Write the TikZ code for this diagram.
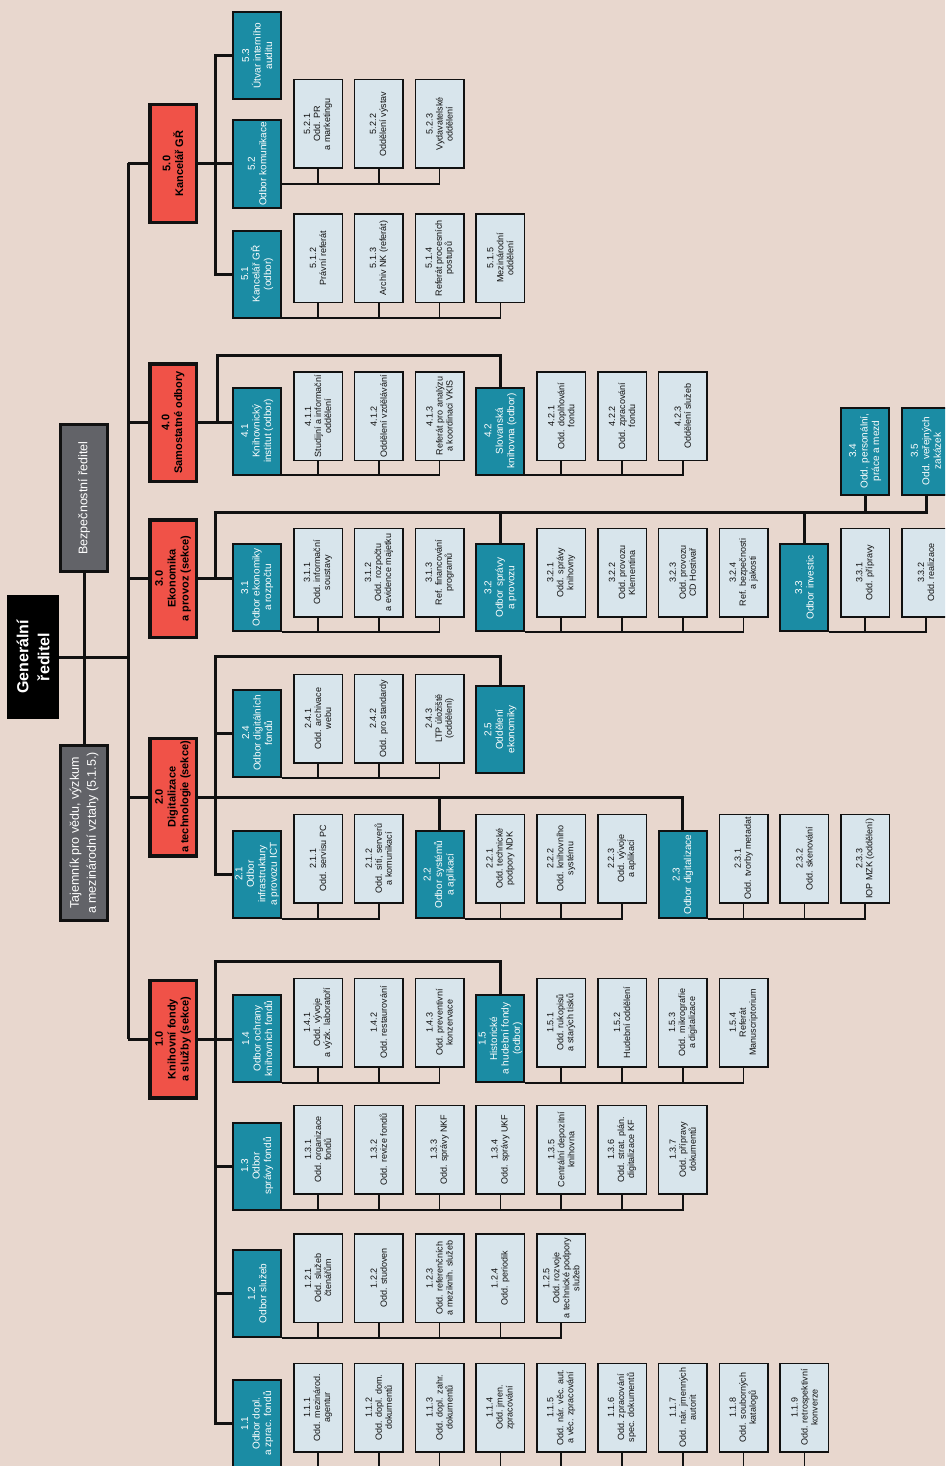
\documentclass[tikz,border=0pt]{standalone}
\usepackage{fontspec}
\setmainfont{Liberation Sans}
\usetikzlibrary{calc}
\definecolor{bgc}{RGB}{232,215,206}
\definecolor{redc}{RGB}{240,82,72}
\definecolor{tealc}{RGB}{27,140,164}
\definecolor{lightc}{RGB}{216,229,236}
\definecolor{grayc}{RGB}{98,99,104}
\definecolor{linec}{RGB}{17,17,17}
\tikzset{
 box/.style={rotate=90, align=center, inner sep=0.5pt, anchor=center},
 lbox/.style={box, draw=linec, fill=lightc, text=linec, line width=1.5pt, minimum width=88.5pt, minimum height=48.5pt, font=\fontsize{9}{10}\selectfont},
 tbox/.style={box, draw=linec, fill=tealc, text=white, line width=2pt, minimum width=87pt, minimum height=48pt, font=\fontsize{10}{11.5}\selectfont},
 rbox/.style={box, draw=linec, fill=redc, text=black, line width=3.5pt, minimum width=117.5pt, minimum height=46.5pt, font=\fontsize{11}{12.8}\selectfont\bfseries},
 gbox/.style={box, draw=linec, fill=grayc, text=white, line width=3pt, minimum height=47pt, font=\fontsize{12.5}{17}\selectfont},
 gdbox/.style={box, fill=black, text=white, minimum width=124pt, minimum height=52pt, font=\fontsize{16}{21}\selectfont\bfseries},
 thk/.style={draw=linec, line width=3pt},
 bus/.style={draw=linec, line width=1.7pt},
}
\begin{document}
\begin{tikzpicture}[x=1pt,y=-1pt]
\useasboundingbox (0,0) rectangle (945,1466);
\clip (0,0) rectangle (945,1466);
\fill[bgc] (0,0) rectangle (945,1466);

% top level
\node[gdbox] (gr) at (33,657) {Generální\\ředitel};
\node[gbox, minimum width=147pt] (bez) at (84,498) {Bezpečnostní ředitel};
\node[gbox, minimum width=175pt] (taj) at (84,833) {Tajemník pro vědu, výzkum\\a mezinárodní vztahy (5.1.5.)};

% sections
\node[rbox] (r50) at (173,163.5) {5.0\\Kancelář GŘ};
\node[rbox] (r40) at (173,422.5) {4.0\\Samostatné odbory};
\node[rbox] (r30) at (173,578.5) {3.0\\Ekonomika\\a provoz (sekce)};
\node[rbox] (r20) at (173,797) {2.0\\Digitalizace\\a technologie (sekce)};
\node[rbox] (r10) at (173,1039) {1.0\\Knihovní fondy\\a služby (sekce)};

% ---- section 5
\node[tbox] (t53) at (257.2,55.5) {5.3\\Útvar interního\\auditu};
\node[tbox] (t52) at (257.2,164) {5.2\\Odbor komunikace};
\node[tbox] (t51) at (257.2,274) {5.1\\Kancelář GŘ\\(odbor)};
\node[lbox] (l521) at (318,124) {5.2.1\\Odd. PR\\a marketingu};
\node[lbox] (l522) at (378.8,124) {5.2.2\\Oddělení výstav};
\node[lbox] (l523) at (439.6,124) {5.2.3\\Vydavatelské\\oddělení};
\node[lbox] (l512) at (318,258) {5.1.2\\Právní referát};
\node[lbox] (l513) at (378.8,258) {5.1.3\\Archiv NK (referát)};
\node[lbox] (l514) at (439.6,258) {5.1.4\\Referát procesních\\postupů};
\node[lbox] (l515) at (500.4,258) {5.1.5\\Mezinárodní\\oddělení};

% ---- section 4
\node[tbox] (t41) at (257.2,431) {4.1\\Knihovnický\\institut (odbor)};
\node[tbox] (t42) at (500.4,431) {4.2\\Slovanská\\knihovna (odbor)};
\node[lbox] (l411) at (318,416) {4.1.1\\Studijní a informační\\oddělení};
\node[lbox] (l412) at (378.8,416) {4.1.2\\Oddělení vzdělávání};
\node[lbox] (l413) at (439.6,416) {4.1.3\\Referát pro analýzu\\a koordinaci VKIS};
\node[lbox] (l421) at (561.2,416) {4.2.1\\Odd. doplňování\\fondu};
\node[lbox] (l422) at (622,416) {4.2.2\\Odd. zpracování\\fondu};
\node[lbox] (l423) at (682.8,416) {4.2.3\\Oddělení služeb};

% ---- section 3
\node[tbox] (t31) at (257.2,587.5) {3.1\\Odbor ekonomiky\\a rozpočtu};
\node[tbox] (t32) at (500.4,587.5) {3.2\\Odbor správy\\a provozu};
\node[tbox] (t33) at (804.4,587.5) {3.3\\Odbor investic};
\node[tbox] (t34) at (865.2,451) {3.4\\Odd. personální,\\práce a mezd};
\node[tbox] (t35) at (926,451) {3.5\\Odd. veřejných\\zakázek};
\node[lbox] (l311) at (318,572.5) {3.1.1\\Odd. informační\\soustavy};
\node[lbox] (l312) at (378.8,572.5) {3.1.2\\Odd. rozpočtu\\a evidence majetku};
\node[lbox] (l313) at (439.6,572.5) {3.1.3\\Ref. financování\\programů};
\node[lbox] (l321) at (561.2,572.5) {3.2.1\\Odd. správy\\knihovny};
\node[lbox] (l322) at (622,572.5) {3.2.2\\Odd. provozu\\Klementina};
\node[lbox] (l323) at (682.8,572.5) {3.2.3\\Odd. provozu\\CD Hostivař};
\node[lbox] (l324) at (743.6,572.5) {3.2.4\\Ref. bezpečnosti\\a jakosti};
\node[lbox] (l331) at (865.2,572.5) {3.3.1\\Odd. přípravy};
\node[lbox] (l332) at (926,572.5) {3.3.2\\Odd. realizace};

% ---- section 2
\node[tbox] (t24) at (257.2,733) {2.4\\Odbor digitálních\\fondů};
\node[tbox] (t25) at (500.4,729.5) {2.5\\Oddělení\\ekonomiky};
\node[tbox] (t21) at (257.2,874) {2.1\\Odbor\\infrastruktury\\a provozu ICT};
\node[tbox] (t22) at (439.6,874.5) {2.2\\Odbor systémů\\a aplikací};
\node[tbox] (t23) at (682.8,874.5) {2.3\\Odbor digitalizace};
\node[lbox] (l241) at (318,718.5) {2.4.1\\Odd. archivace\\webu};
\node[lbox] (l242) at (378.8,718.5) {2.4.2\\Odd. pro standardy};
\node[lbox] (l243) at (439.6,718.5) {2.4.3\\LTP úložiště\\(oddělení)};
\node[lbox] (l211) at (318,858.5) {2.1.1\\Odd. servisu PC};
\node[lbox] (l212) at (378.8,858.5) {2.1.2\\Odd. sítí, serverů\\a komunikací};
\node[lbox] (l221) at (500.4,858.5) {2.2.1\\Odd. technické\\podpory NDK};
\node[lbox] (l222) at (561.2,858.5) {2.2.2\\Odd. knihovního\\systému};
\node[lbox] (l223) at (622,858.5) {2.2.3\\Odd. vývoje\\a aplikací};
\node[lbox] (l231) at (743.6,858.5) {2.3.1\\Odd. tvorby metadat};
\node[lbox] (l232) at (804.4,858.5) {2.3.2\\Odd. skenování};
\node[lbox] (l233) at (865.2,858.5) {2.3.3\\IOP MZK (oddělení)};

% ---- section 1
\node[tbox] (t14) at (257.2,1038.5) {1.4\\Odbor ochrany\\knihovních fondů};
\node[tbox] (t15) at (500.4,1038.5) {1.5\\Historické\\a hudební fondy\\(odbor)};
\node[tbox] (t13) at (257.2,1166) {1.3\\Odbor\\správy fondů};
\node[tbox] (t12) at (257.2,1293.5) {1.2\\Odbor služeb};
\node[tbox] (t11) at (257.2,1423.5) {1.1\\Odbor dopl.\\a zprac. fondů};
\node[lbox] (l141) at (318,1022.5) {1.4.1\\Odd. vývoje\\a výzk. laboratoří};
\node[lbox] (l142) at (378.8,1022.5) {1.4.2\\Odd. restaurování};
\node[lbox] (l143) at (439.6,1022.5) {1.4.3\\Odd. preventivní\\konzervace};
\node[lbox] (l151) at (561.2,1022.5) {1.5.1\\Odd. rukopisů\\a starých tisků};
\node[lbox] (l152) at (622,1022.5) {1.5.2\\Hudební oddělení};
\node[lbox] (l153) at (682.8,1022.5) {1.5.3\\Odd. mikrografie\\a digitalizace};
\node[lbox] (l154) at (743.6,1022.5) {1.5.4\\Referát\\Manuscriptorium};
\node[lbox] (l131) at (318,1149.5) {1.3.1\\Odd. organizace\\fondů};
\node[lbox] (l132) at (378.8,1149.5) {1.3.2\\Odd. revize fondů};
\node[lbox] (l133) at (439.6,1149.5) {1.3.3\\Odd. správy NKF};
\node[lbox] (l134) at (500.4,1149.5) {1.3.4\\Odd. správy UKF};
\node[lbox] (l135) at (561.2,1149.5) {1.3.5\\Centrální depozitní\\knihovna};
\node[lbox] (l136) at (622,1149.5) {1.3.6\\Odd. strat. plán.\\digitalizace KF};
\node[lbox] (l137) at (682.8,1149.5) {1.3.7\\Odd. přípravy\\dokumentů};
\node[lbox] (l121) at (318,1278) {1.2.1\\Odd. služeb\\čtenářům};
\node[lbox] (l122) at (378.8,1278) {1.2.2\\Odd. studoven};
\node[lbox] (l123) at (439.6,1278) {1.2.3\\Odd. referenčních\\a meziknih. služeb};
\node[lbox] (l124) at (500.4,1278) {1.2.4\\Odd. periodik};
\node[lbox] (l125) at (561.2,1278) {1.2.5\\Odd. rozvoje\\a technické podpory\\služeb};
\node[lbox] (l111) at (318,1407.5) {1.1.1\\Odd. mezinárod.\\agentur};
\node[lbox] (l112) at (378.8,1407.5) {1.1.2\\Odd. dopl. dom.\\dokumentů};
\node[lbox] (l113) at (439.6,1407.5) {1.1.3\\Odd. dopl. zahr.\\dokumentů};
\node[lbox] (l114) at (500.4,1407.5) {1.1.4\\Odd. jmen.\\zpracování};
\node[lbox] (l115) at (561.2,1407.5) {1.1.5\\Odd. nár. věc. aut.\\a věc. zpracování};
\node[lbox] (l116) at (622,1407.5) {1.1.6\\Odd. zpracování\\spec. dokumentů};
\node[lbox] (l117) at (682.8,1407.5) {1.1.7\\Odd. nár. jmenných\\autorit};
\node[lbox] (l118) at (743.6,1407.5) {1.1.8\\Odd. souborných\\katalogů};
\node[lbox] (l119) at (804.4,1407.5) {1.1.9\\Odd. retrospektivní\\konverze};

% ================= connectors
\coordinate (spx) at (128,0);
\coordinate (sx) at (215,0);
\coordinate (sx4) at (217,0);
\draw[thk] (r50.north -| spx) -- (r10.north -| spx);
\foreach \r in {r50,r40,r30,r20,r10} \draw[thk] (\r.north -| spx) -- (\r.north);
\draw[thk] (gr.south) -- (gr.south -| spx);
\draw[thk] (bez.west) -- (taj.east);

% section 5
\draw[thk] (r50.south) -- (r50.south -| t52.north);
\draw[thk] (t53.north) -| (t51.north -| sx) -- (t51.north);
\coordinate (b52) at (0,184);
\draw[bus] (t52.south |- b52) -| (l523.west);
\foreach \c in {l521,l522} \draw[bus] (\c.west) -- (\c.west |- b52);
\coordinate (b51) at (0,318);
\draw[bus] (t51.south |- b51) -| (l515.west);
\foreach \c in {l512,l513,l514} \draw[bus] (\c.west) -- (\c.west |- b51);

% section 4
\coordinate (h4) at (0,355);
\draw[thk] (r40.south) -- (r40.south -| t41.north);
\draw[thk] (r40.south -| sx4) |- (h4 -| t42.east) -- (t42.east);
\coordinate (b4) at (0,475);
\draw[bus] (t41.south |- b4) -| (l413.west);
\foreach \c in {l411,l412} \draw[bus] (\c.west) -- (\c.west |- b4);
\draw[bus] (t42.south |- b4) -| (l423.west);
\foreach \c in {l421,l422} \draw[bus] (\c.west) -- (\c.west |- b4);

% section 3
\coordinate (h3) at (0,512);
\draw[thk] (r30.south) -- (r30.south -| t31.north);
\draw[thk] (r30.south -| sx) |- (h3 -| t35.west) -- (t35.west);
\foreach \t in {t32,t33} \draw[thk] (h3 -| \t.east) -- (\t.east);
\draw[thk] (h3 -| t34.west) -- (t34.west);
\coordinate (b3) at (0,632);
\draw[bus] (t31.south |- b3) -| (l313.west);
\foreach \c in {l311,l312} \draw[bus] (\c.west) -- (\c.west |- b3);
\draw[bus] (t32.south |- b3) -| (l324.west);
\foreach \c in {l321,l322,l323} \draw[bus] (\c.west) -- (\c.west |- b3);
\draw[bus] (t33.south |- b3) -| (l332.west);
\draw[bus] (l331.west) -- (l331.west |- b3);

% section 2
\coordinate (h2) at (0,656);
\draw[thk] (r20.south) -| (t23.east);
\draw[thk] (r20.south -| t22.east) -- (t22.east);
\draw[thk] (t25.east) -- (t25.east |- h2) -| (t21.north -| sx) -- (t21.north);
\draw[thk] (t24.north -| sx) -- (t24.north);
\coordinate (b24) at (0,778);
\draw[bus] (t24.south |- b24) -| (l243.west);
\foreach \c in {l241,l242} \draw[bus] (\c.west) -- (\c.west |- b24);
\coordinate (b2) at (0,919);
\draw[bus] (t21.south |- b2) -| (l212.west);
\draw[bus] (l211.west) -- (l211.west |- b2);
\draw[bus] (t22.south |- b2) -| (l223.west);
\foreach \c in {l221,l222} \draw[bus] (\c.west) -- (\c.west |- b2);
\draw[bus] (t23.south |- b2) -| (l233.west);
\foreach \c in {l231,l232} \draw[bus] (\c.west) -- (\c.west |- b2);

% section 1
\coordinate (h1) at (0,961);
\draw[thk] (r10.south) -- (r10.south -| t14.north);
\draw[thk] (t15.east) -- (t15.east |- h1) -| (t11.north -| sx) -- (t11.north);
\foreach \t in {t13,t12} \draw[thk] (\t.north -| sx) -- (\t.north);
\coordinate (b1) at (0,1083);
\draw[bus] (t14.south |- b1) -| (l143.west);
\foreach \c in {l141,l142} \draw[bus] (\c.west) -- (\c.west |- b1);
\draw[bus] (t15.south |- b1) -| (l154.west);
\foreach \c in {l151,l152,l153} \draw[bus] (\c.west) -- (\c.west |- b1);
\coordinate (b13) at (0,1210);
\draw[bus] (t13.south |- b13) -| (l137.west);
\foreach \c in {l131,l132,l133,l134,l135,l136} \draw[bus] (\c.west) -- (\c.west |- b13);
\coordinate (b12) at (0,1338);
\draw[bus] (t12.south |- b12) -| (l125.west);
\foreach \c in {l121,l122,l123,l124} \draw[bus] (\c.west) -- (\c.west |- b12);
\coordinate (b11) at (0,1469);
\draw[bus] (t11.south |- b11) -| (l119.west);
\foreach \c in {l111,l112,l113,l114,l115,l116,l117,l118} \draw[bus] (\c.west) -- (\c.west |- b11);
\end{tikzpicture}
\end{document}
